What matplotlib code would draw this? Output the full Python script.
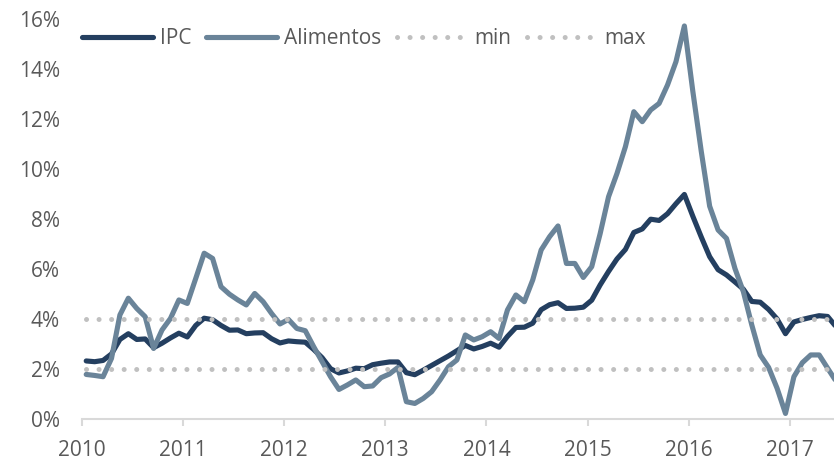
import numpy as np
import matplotlib
matplotlib.use("Agg")
import matplotlib.pyplot as plt

# monthly series, first point sits half a month after the 2010 tick
ipc = [2.31, 2.28, 2.33, 2.59, 3.17, 3.40, 3.17, 3.19, 2.84, 3.02, 3.23, 3.42,
       3.27, 3.73, 4.02, 3.96, 3.73, 3.54, 3.55, 3.40, 3.43, 3.44, 3.20, 3.03,
       3.11, 3.08, 3.06, 2.77, 2.44, 2.00, 1.83, 1.91, 2.02, 2.00, 2.16, 2.22,
       2.27, 2.27, 1.84, 1.76, 1.94, 2.13, 2.32, 2.51, 2.72, 2.93, 2.79, 2.89,
       3.02, 2.86, 3.29, 3.65, 3.66, 3.82, 4.36, 4.56, 4.64, 4.41, 4.42, 4.46,
       4.74, 5.35, 5.89, 6.39, 6.77, 7.45, 7.59, 7.98, 7.93, 8.20, 8.60, 8.97,
       8.10, 7.27, 6.48, 5.96, 5.75, 5.47, 5.18, 4.69, 4.66, 4.37, 3.99, 3.40,
       3.87, 3.97, 4.05, 4.12, 4.09, 3.68]

alimentos = [1.77, 1.73, 1.68, 2.41, 4.15, 4.82, 4.41, 4.08, 2.81, 3.55, 4.01, 4.75,
             4.61, 5.61, 6.62, 6.41, 5.28, 4.98, 4.75, 4.55, 5.01, 4.68, 4.21, 3.79,
             3.97, 3.61, 3.52, 2.88, 2.28, 1.68, 1.17, 1.35, 1.55, 1.28, 1.31, 1.64,
             1.79, 2.05, 0.68, 0.61, 0.81, 1.08, 1.55, 2.08, 2.35, 3.35, 3.15, 3.28,
             3.48, 3.21, 4.35, 4.95, 4.68, 5.55, 6.75, 7.28, 7.71, 6.21, 6.21, 5.65,
             6.08, 7.40, 8.88, 9.81, 10.88, 12.28, 11.88, 12.35, 12.61, 13.35, 14.28, 15.71,
             13.10, 10.70, 8.50, 7.55, 7.21, 6.01, 5.08, 3.75, 2.55, 2.05, 1.22, 0.21,
             1.68, 2.24, 2.55, 2.55, 2.02, 1.50]

min_level = 2.0
max_level = 4.0
years = [2010, 2011, 2012, 2013, 2014, 2015, 2016, 2017]
yticks = [0, 2, 4, 6, 8, 10, 12, 14, 16]

t = 2010 + (np.arange(len(ipc)) + 0.5) / 12

plt.rcParams['font.family'] = ['Open Sans', 'DejaVu Sans']
grey_txt = '#595959'
fs = 15

fig = plt.figure(figsize=(8.34, 4.59), dpi=100)
ax = fig.add_axes([82 / 834, (459 - 418.7) / 459, 752 / 834, 400 / 459])

ax.plot(t, ipc, color='#243f60', lw=3.7, solid_joinstyle='round', solid_capstyle='round', label='IPC')
ax.plot(t, alimentos, color='#6a8499', lw=3.7, solid_joinstyle='round', solid_capstyle='round', label='Alimentos')
ax.plot([t[0], t[-1]], [min_level, min_level], color='#c0c0c0', lw=3.6,
        linestyle=(0, (0.01, 2.5)), dash_capstyle='round', label='min')
ax.plot([t[0], t[-1]], [max_level, max_level], color='#c0c0c0', lw=3.6,
        linestyle=(0, (0.01, 2.5)), dash_capstyle='round', label='max')

ax.set_xlim(2010, 2010 + 752 / 101.1)
ax.set_ylim(0, 16)
ax.set_xticks(years)
ax.set_xticklabels([str(y) for y in years])
ax.set_yticks(yticks)
ax.set_yticklabels([f'{v}%' for v in yticks])

for s in ['top', 'right', 'left']:
    ax.spines[s].set_visible(False)
ax.spines['bottom'].set_color('#d9d9d9')
ax.spines['bottom'].set_linewidth(1.5)
ax.tick_params(axis='x', colors='#d9d9d9', length=5, width=1.5, pad=10,
               labelcolor=grey_txt, labelsize=fs)
ax.tick_params(axis='y', length=0, pad=16, labelcolor=grey_txt, labelsize=fs)

leg = ax.legend(loc='center left', bbox_to_anchor=(0.0, 0.951), ncol=4, frameon=False,
                fontsize=fs, handlelength=3.4, handletextpad=0.34, columnspacing=0.72,
                borderaxespad=0, borderpad=0)
for txt in leg.get_texts():
    txt.set_color(grey_txt)

fig.savefig('out.png', dpi=100)
